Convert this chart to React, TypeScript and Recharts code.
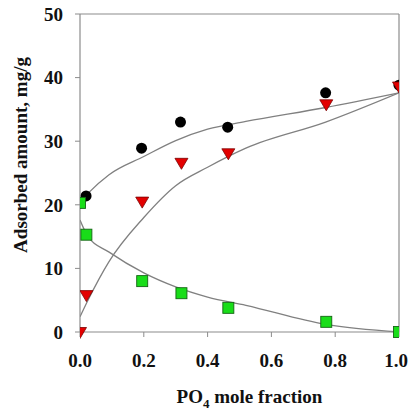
import {
  ComposedChart,
  Line,
  Scatter,
  XAxis,
  YAxis,
  ReferenceLine,
} from 'recharts';

// measured points
const fraction = [0.0, 0.02, 0.195, 0.318, 0.465, 0.772, 1.0];
const circleX = [0.019, 0.193, 0.315, 0.463, 0.77, 1.0];
const circleY = [21.4, 28.9, 33.0, 32.2, 37.6, 38.8];
const triangleY = [0.0, 5.8, 20.5, 26.6, 28.1, 35.8, 38.6];
const squareY = [20.3, 15.3, 8.0, 6.1, 3.8, 1.6, 0.0];

// fitted curves
const fitX = [0, 0.025, 0.09, 0.2, 0.3, 0.4, 0.52, 0.77, 1.0];
const fitCircle = [20.4, 21.8, 24.7, 27.6, 30.1, 31.9, 33.1, 35.3, 37.6];
const fitTriangle = [2.4, 5.0, 11.0, 18.0, 23.0, 25.9, 28.9, 33.0, 37.6];
const fitSquare = [17.6, 15.0, 12.6, 9.3, 7.1, 5.5, 4.2, 1.2, 0.0];

const xTicks = [0, 0.2, 0.4, 0.6, 0.8, 1.0];
const yTicks = [0, 10, 20, 30, 40, 50];

const FONT = '"Liberation Serif", "Times New Roman", serif';
const AXIS = '#8c8c8c';
const CURVE = '#808080';

const pts = (xs: number[], ys: number[]) => xs.map((x, i) => ({ x, y: ys[i] }));

const circleData = pts(circleX, circleY);
const triangleData = pts(fraction, triangleY);
const squareData = pts(fraction, squareY);

const Dot = ({ cx, cy }: any) => (
  <circle cx={cx} cy={cy} r={5.5} fill="#000" />
);

const Tri = ({ cx, cy }: any) => (
  <polygon
    points={`${cx - 6.5},${cy - 4.5} ${cx + 6.5},${cy - 4.5} ${cx},${cy + 6.5}`}
    fill="#e30000"
    stroke="#7a0000"
    strokeWidth={0.8}
  />
);

const Sq = ({ cx, cy }: any) => (
  <rect
    x={cx - 5.5}
    y={cy - 5.5}
    width={11}
    height={11}
    fill="#19dd19"
    stroke="#146414"
    strokeWidth={0.9}
  />
);

const XLabel = ({ viewBox }: any) => {
  const cx = viewBox.x + viewBox.width / 2 + 10;
  return (
    <text
      x={cx}
      y={viewBox.y + 71}
      textAnchor="middle"
      fontFamily={FONT}
      fontWeight="bold"
      fontSize={19}
      fill="#111"
    >
      PO
      <tspan fontSize={13} dy={5}>4</tspan>
      <tspan dy={-5}> mole fraction</tspan>
    </text>
  );
};

const YLabel = () => (
  <text
    x={20}
    y={155}
    transform="rotate(-90 20 155)"
    textAnchor="middle"
    dominantBaseline="central"
    fontFamily={FONT}
    fontWeight="bold"
    fontSize={19}
    fill="#111"
  >
    Adsorbed amount, mg/g
  </text>
);

export default function App() {
  const tick = { fill: '#111', fontSize: 19, fontWeight: 'bold', fontFamily: FONT };
  return (
    <div style={{ position: 'absolute', left: 0, top: 0, background: '#fff' }}>
      <ComposedChart
        width={408}
        height={412}
        margin={{ top: 14, right: 9, bottom: 0, left: 0 }}
      >
        <XAxis
          dataKey="x"
          type="number"
          domain={[0, 1]}
          ticks={xTicks}
          tickFormatter={(v: number) => v.toFixed(1)}
          tick={tick}
          tickSize={5}
          tickMargin={17}
          axisLine={{ stroke: AXIS, strokeWidth: 1.2 }}
          tickLine={{ stroke: AXIS }}
          height={80}
          allowDataOverflow
          label={<XLabel />}
        />
        <YAxis
          type="number"
          domain={[0, 50]}
          ticks={yTicks}
          tick={tick}
          tickSize={5}
          tickMargin={12}
          axisLine={{ stroke: AXIS, strokeWidth: 1.2 }}
          tickLine={{ stroke: AXIS }}
          width={80}
          label={<YLabel />}
        />
        <ReferenceLine y={50} stroke={AXIS} strokeWidth={1.2} />
        <ReferenceLine x={1} stroke={AXIS} strokeWidth={1.2} />
        <Line
          data={pts(fitX, fitCircle)}
          dataKey="y"
          type="monotone"
          stroke={CURVE}
          strokeWidth={1.3}
          dot={false}
          isAnimationActive={false}
        />
        <Line
          data={pts(fitX, fitTriangle)}
          dataKey="y"
          type="monotone"
          stroke={CURVE}
          strokeWidth={1.3}
          dot={false}
          isAnimationActive={false}
        />
        <Line
          data={pts(fitX, fitSquare)}
          dataKey="y"
          type="monotone"
          stroke={CURVE}
          strokeWidth={1.3}
          dot={false}
          isAnimationActive={false}
        />
        <Scatter data={circleData} dataKey="y" shape={<Dot />} isAnimationActive={false} />
        <Scatter data={triangleData} dataKey="y" shape={<Tri />} isAnimationActive={false} />
        <Scatter data={squareData} dataKey="y" shape={<Sq />} isAnimationActive={false} />
      </ComposedChart>
    </div>
  );
}
